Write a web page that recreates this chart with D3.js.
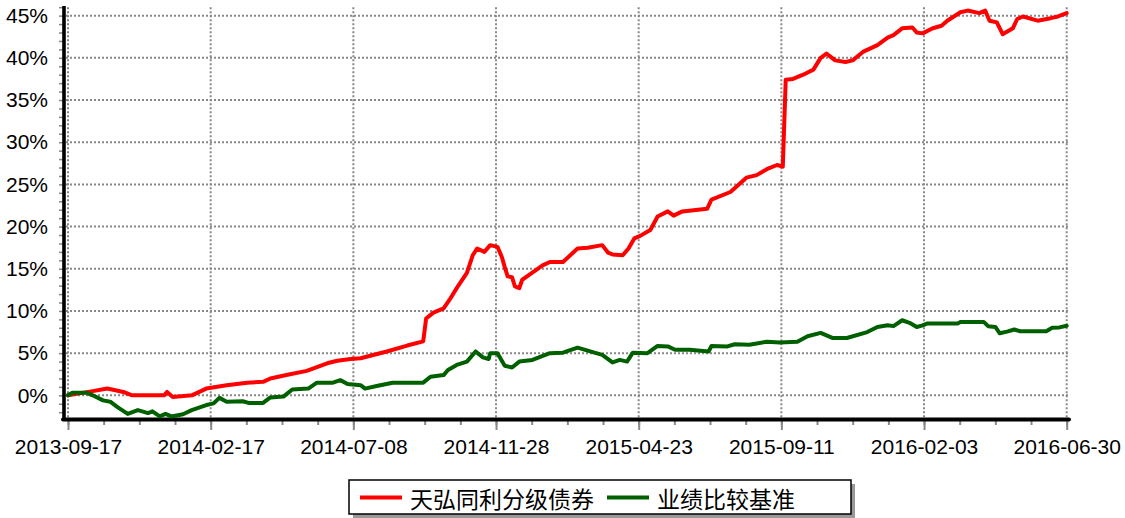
<!DOCTYPE html>
<html>
<head>
<meta charset="utf-8">
<title>天弘同利分级债券 vs 业绩比较基准</title>
<script src="https://d3js.org/d3.v7.min.js"></script>
</head>

<body style="margin:0;background:#fff">

<style>
  text { font-family: "Liberation Sans", Arial, sans-serif; fill: #000; }
  .cjk { font-family: "Noto Sans CJK SC", sans-serif; }
</style>

<script>

// x axis tick labels (evenly spaced on a trading-day axis)
var dateLabels = ['2013-09-17','2014-02-17','2014-07-08','2014-11-28','2015-04-23','2015-09-11','2016-02-03','2016-06-30'];
var totalDays = 686;

var seriesNames = ['天弘同利分级债券', '业绩比较基准'];

// cumulative return (%) of the fund, by trading day
var fundDays = [0,17,27,38,44,66,68,72,85,95,109,123,134,139,150,164,178,185,194,201,219,233,244,246,251,258,262,267,274,278,281,286,290,295,298,300,302,305,307,310,312,317,326,331,340,350,357,367,371,374,381,385,389,393,400,405,412,416,422,439,442,455,466,473,480,487,491,493,498,505,512,517,521,527,534,539,546,556,563,567,573,580,583,587,594,600,604,613,618,626,630,633,638,642,649,652,656,666,675,680,686];
var fundValues = [0.0,0.5,0.8,0.4,0.0,0.0,0.4,-0.2,0.0,0.8,1.2,1.5,1.6,2.0,2.4,2.9,3.8,4.1,4.3,4.4,5.2,5.9,6.4,9.1,9.8,10.3,11.3,12.7,14.5,16.6,17.4,17.0,17.8,17.6,16.4,15.2,14.1,14.0,12.9,12.7,13.7,14.3,15.4,15.8,15.8,17.4,17.5,17.8,16.9,16.7,16.6,17.4,18.6,18.9,19.6,21.2,21.8,21.3,21.8,22.1,23.2,24.1,25.8,26.1,26.8,27.3,27.1,37.4,37.5,38.0,38.6,40.0,40.5,39.7,39.5,39.7,40.7,41.5,42.4,42.7,43.5,43.6,43.0,42.9,43.5,43.8,44.4,45.4,45.6,45.3,45.6,44.4,44.2,42.8,43.5,44.6,44.9,44.4,44.7,44.9,45.3];

// cumulative return (%) of the benchmark
var benchDays = [0,3,13,17,24,29,34,41,48,55,58,63,67,71,79,85,95,100,104,109,120,124,134,139,148,154,165,171,182,187,192,201,204,212,223,244,249,258,261,267,274,280,285,289,290,295,300,305,310,319,331,340,350,357,361,367,374,379,384,388,398,405,412,417,427,440,442,453,458,468,480,489,501,508,517,525,535,549,556,563,567,573,578,583,587,590,611,613,629,632,637,640,645,650,654,672,676,681,686];
var benchValues = [0.0,0.3,0.3,0.0,-0.6,-0.75,-1.4,-2.2,-1.75,-2.1,-1.9,-2.5,-2.2,-2.5,-2.25,-1.75,-1.15,-0.95,-0.3,-0.75,-0.7,-0.9,-0.9,-0.25,-0.15,0.7,0.8,1.5,1.5,1.8,1.35,1.2,0.8,1.1,1.5,1.5,2.2,2.4,3.0,3.6,4.0,5.2,4.5,4.3,5.0,5.0,3.5,3.3,4.0,4.2,5.0,5.05,5.65,5.3,5.1,4.8,3.9,4.2,4.0,5.05,5.0,5.85,5.8,5.4,5.4,5.2,5.85,5.8,6.05,6.0,6.35,6.25,6.35,7.0,7.4,6.8,6.8,7.5,8.1,8.3,8.2,8.9,8.6,8.1,8.3,8.5,8.5,8.7,8.7,8.2,8.1,7.35,7.55,7.8,7.6,7.6,8.0,8.05,8.25];

var seriesColors = ['#ff0000', '#006000'];

var width = 1125, height = 518;

var svg = d3.select("body").append("svg")
	.attr("width", width)
	.attr("height", height);

var x = d3.scaleLinear().domain([0, totalDays]).range([68, 1066.7]);
var y = d3.scaleLinear().domain([-2.9, 46]).range([419.8, 7.2]);

var majorTicks = dateLabels.map(function(d, i){ return i * totalDays / (dateLabels.length - 1); });
var minorTicks = d3.range(0, 29).map(function(i){ return i * totalDays / 28; });

// horizontal dotted grid
svg.append("g").selectAll("line")
	.data(d3.range(0, 50, 5))
	.enter().append("line")
	.attr("x1", 66).attr("x2", 1068)
	.attr("y1", function(d){ return y(d); })
	.attr("y2", function(d){ return y(d); })
	.style("stroke", "#888").style("stroke-width", 2).style("stroke-dasharray", "2,2");

// vertical dotted grid
svg.append("g").selectAll("line")
	.data(majorTicks)
	.enter().append("line")
	.attr("x1", function(d){ return x(d); })
	.attr("x2", function(d){ return x(d); })
	.attr("y1", y(46)).attr("y2", y(-2.9))
	.style("stroke", "#888").style("stroke-width", 2).style("stroke-dasharray", "2,2");

// y axis: minor ticks every 1%, labels every 5%
var yMinor = svg.append("g")
	.attr("transform", "translate(63,0)")
	.call(d3.axisLeft(y).tickValues(d3.range(-2, 47, 1)).tickSize(4).tickFormat(""));
yMinor.select(".domain").remove();
yMinor.selectAll("line").style("stroke", "#888").style("stroke-width", 1.5);

var yLab = svg.append("g")
	.attr("transform", "translate(64,0)")
	.call(d3.axisLeft(y).tickValues(d3.range(0, 50, 5)).tickSize(0).tickPadding(16)
		.tickFormat(function(d){ return d + "%"; }));
yLab.select(".domain").remove();
yLab.selectAll("text").style("font-size", "21px").style("font-family", "Liberation Sans, Arial, sans-serif");

// x axis: minor and major ticks
var xMinor = svg.append("g")
	.attr("transform", "translate(0,420)")
	.call(d3.axisBottom(x).tickValues(minorTicks).tickSize(5).tickFormat(""));
xMinor.select(".domain").remove();
xMinor.selectAll("line").style("stroke", "#888").style("stroke-width", 2);

var xMajor = svg.append("g")
	.attr("transform", "translate(0,420)")
	.call(d3.axisBottom(x).tickValues(majorTicks).tickSize(10).tickPadding(9)
		.tickFormat(function(d, i){ return dateLabels[i]; }));
xMajor.select(".domain").remove();
xMajor.selectAll("line").style("stroke", "#888").style("stroke-width", 2);
xMajor.selectAll("text").style("font-size", "21px").style("font-family", "Liberation Sans, Arial, sans-serif");

// thick black axis lines
svg.append("line")
	.attr("x1", 64).attr("x2", 64).attr("y1", 6).attr("y2", 421)
	.style("stroke", "#000").style("stroke-width", 3.6);
svg.append("line")
	.attr("x1", 63).attr("x2", 1069).attr("y1", 419.6).attr("y2", 419.6)
	.style("stroke", "#000").style("stroke-width", 4).style("stroke-linecap", "round");

// series lines
var line = d3.line()
	.x(function(d){ return x(d[0]); })
	.y(function(d){ return y(d[1]); });

var series = [
	d3.zip(fundDays, fundValues),
	d3.zip(benchDays, benchValues)
];

series.forEach(function(s, i){
	svg.append("path")
		.datum(s)
		.attr("d", line)
		.style("fill", "none")
		.style("stroke", seriesColors[i])
		.style("stroke-width", 4)
		.style("stroke-linejoin", "round")
		.style("stroke-linecap", "round");
});

// legend box with shadow
var legend = svg.append("g");
legend.append("rect")
	.attr("x", 353).attr("y", 484).attr("width", 502).attr("height", 34)
	.style("fill", "#999");
legend.append("rect")
	.attr("x", 349).attr("y", 480).attr("width", 502).attr("height", 34)
	.style("fill", "#fff").style("stroke", "#000").style("stroke-width", 1.5);

var legendX = [360, 607];
seriesNames.forEach(function(name, i){
	legend.append("line")
		.attr("x1", legendX[i]).attr("x2", legendX[i] + 42)
		.attr("y1", 497.5).attr("y2", 497.5)
		.style("stroke", seriesColors[i]).style("stroke-width", 4);
	legend.append("text")
		.attr("class", "cjk")
		.attr("x", legendX[i] + 50)
		.attr("y", 498)
		.attr("dominant-baseline", "central")
		.style("font-size", "23px")
		.text(name);
});

</script>
</body>
</html>
